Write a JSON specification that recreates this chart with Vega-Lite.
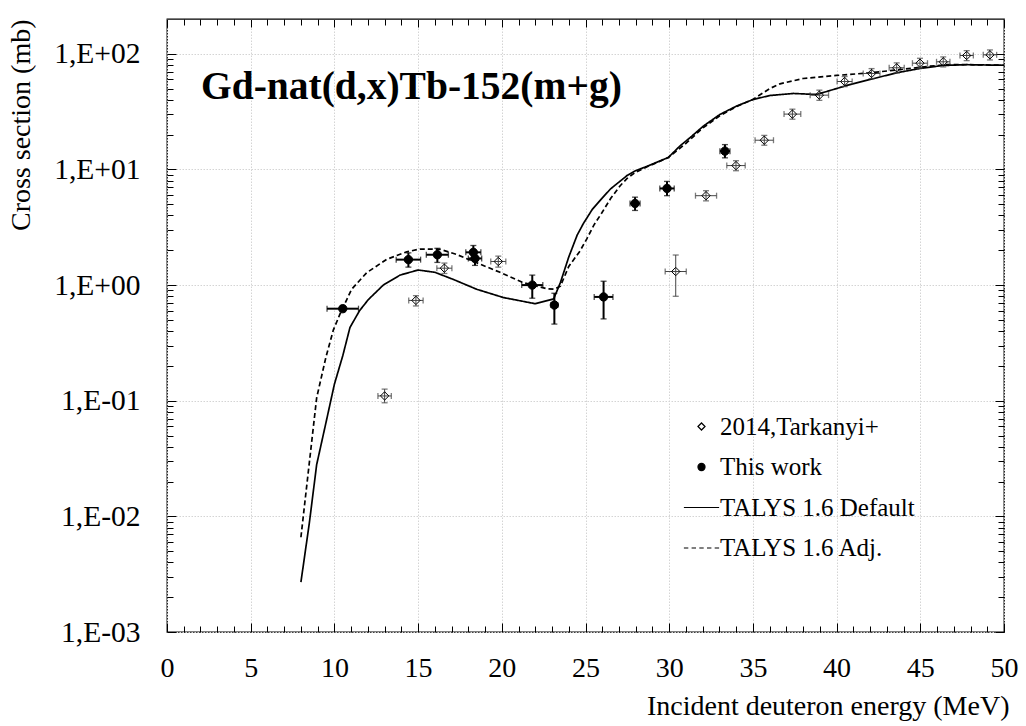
{
  "$schema": "https://vega.github.io/schema/vega-lite/v6.json",
  "width": 837,
  "height": 613,
  "autosize": {"type": "none"},
  "padding": {"left": 167, "top": 19, "right": 22, "bottom": 94},
  "background": "white",
  "title": {
    "text": "Gd-nat(d,x)Tb-152(m+g)",
    "anchor": "start",
    "frame": "group",
    "orient": "top",
    "offset": -120,
    "dx": 34,
    "baseline": "alphabetic",
    "font": "Liberation Serif",
    "fontSize": 39.5,
    "fontWeight": "bold",
    "color": "black"
  },
  "config": {
    "font": "Liberation Serif",
    "view": {"stroke": "black", "strokeWidth": 1.3},
    "axis": {"labelFont": "Liberation Serif", "titleFont": "Liberation Serif", "labelColor": "black", "titleColor": "black", "tickColor": "black", "tickWidth": 1}
  },
  "datasets": {
    "talys": [
      {"model": "TALYS 1.6 Default", "E": 8.0, "xs": 0.0027},
      {"model": "TALYS 1.6 Default", "E": 8.5, "xs": 0.0087},
      {"model": "TALYS 1.6 Default", "E": 8.94, "xs": 0.028},
      {"model": "TALYS 1.6 Default", "E": 9.5, "xs": 0.065},
      {"model": "TALYS 1.6 Default", "E": 10.0, "xs": 0.139},
      {"model": "TALYS 1.6 Default", "E": 10.5, "xs": 0.245},
      {"model": "TALYS 1.6 Default", "E": 10.93, "xs": 0.43},
      {"model": "TALYS 1.6 Default", "E": 11.5, "xs": 0.6},
      {"model": "TALYS 1.6 Default", "E": 12.03, "xs": 0.75},
      {"model": "TALYS 1.6 Default", "E": 12.92, "xs": 1.0},
      {"model": "TALYS 1.6 Default", "E": 13.92, "xs": 1.22},
      {"model": "TALYS 1.6 Default", "E": 15.0, "xs": 1.35},
      {"model": "TALYS 1.6 Default", "E": 16.0, "xs": 1.29},
      {"model": "TALYS 1.6 Default", "E": 17.1, "xs": 1.12},
      {"model": "TALYS 1.6 Default", "E": 18.5, "xs": 0.92},
      {"model": "TALYS 1.6 Default", "E": 20.1, "xs": 0.78},
      {"model": "TALYS 1.6 Default", "E": 22.0, "xs": 0.69},
      {"model": "TALYS 1.6 Default", "E": 23.1, "xs": 0.76},
      {"model": "TALYS 1.6 Default", "E": 23.5, "xs": 1.05},
      {"model": "TALYS 1.6 Default", "E": 24.0, "xs": 1.75},
      {"model": "TALYS 1.6 Default", "E": 24.5, "xs": 2.7},
      {"model": "TALYS 1.6 Default", "E": 24.87, "xs": 3.4},
      {"model": "TALYS 1.6 Default", "E": 25.4, "xs": 4.5},
      {"model": "TALYS 1.6 Default", "E": 25.97, "xs": 5.6},
      {"model": "TALYS 1.6 Default", "E": 26.5, "xs": 6.8},
      {"model": "TALYS 1.6 Default", "E": 27.06, "xs": 7.9},
      {"model": "TALYS 1.6 Default", "E": 27.5, "xs": 8.9},
      {"model": "TALYS 1.6 Default", "E": 27.96, "xs": 9.7},
      {"model": "TALYS 1.6 Default", "E": 28.85, "xs": 10.9},
      {"model": "TALYS 1.6 Default", "E": 29.95, "xs": 12.7},
      {"model": "TALYS 1.6 Default", "E": 30.65, "xs": 16.0},
      {"model": "TALYS 1.6 Default", "E": 31.24, "xs": 18.8},
      {"model": "TALYS 1.6 Default", "E": 32.04, "xs": 23.7},
      {"model": "TALYS 1.6 Default", "E": 33.03, "xs": 29.9},
      {"model": "TALYS 1.6 Default", "E": 34.0, "xs": 35.2},
      {"model": "TALYS 1.6 Default", "E": 35.02, "xs": 40.3},
      {"model": "TALYS 1.6 Default", "E": 36.02, "xs": 43.6},
      {"model": "TALYS 1.6 Default", "E": 37.41, "xs": 45.4},
      {"model": "TALYS 1.6 Default", "E": 38.81, "xs": 44.5},
      {"model": "TALYS 1.6 Default", "E": 39.8, "xs": 49.1},
      {"model": "TALYS 1.6 Default", "E": 40.6, "xs": 53.2},
      {"model": "TALYS 1.6 Default", "E": 42.0, "xs": 60.0},
      {"model": "TALYS 1.6 Default", "E": 43.59, "xs": 68.5},
      {"model": "TALYS 1.6 Default", "E": 44.98, "xs": 74.7},
      {"model": "TALYS 1.6 Default", "E": 46.37, "xs": 79.3},
      {"model": "TALYS 1.6 Default", "E": 47.77, "xs": 80.5},
      {"model": "TALYS 1.6 Default", "E": 50.0, "xs": 79.6},
      {"model": "TALYS 1.6 Adj.", "E": 8.0, "xs": 0.0066},
      {"model": "TALYS 1.6 Adj.", "E": 8.94, "xs": 0.106},
      {"model": "TALYS 1.6 Adj.", "E": 9.5, "xs": 0.24},
      {"model": "TALYS 1.6 Adj.", "E": 9.94, "xs": 0.41},
      {"model": "TALYS 1.6 Adj.", "E": 10.33, "xs": 0.56},
      {"model": "TALYS 1.6 Adj.", "E": 11.03, "xs": 0.92},
      {"model": "TALYS 1.6 Adj.", "E": 11.93, "xs": 1.28},
      {"model": "TALYS 1.6 Adj.", "E": 13.12, "xs": 1.67},
      {"model": "TALYS 1.6 Adj.", "E": 14.32, "xs": 1.94},
      {"model": "TALYS 1.6 Adj.", "E": 15.11, "xs": 2.05},
      {"model": "TALYS 1.6 Adj.", "E": 16.31, "xs": 2.04},
      {"model": "TALYS 1.6 Adj.", "E": 17.3, "xs": 1.84},
      {"model": "TALYS 1.6 Adj.", "E": 18.5, "xs": 1.56},
      {"model": "TALYS 1.6 Adj.", "E": 19.89, "xs": 1.29},
      {"model": "TALYS 1.6 Adj.", "E": 21.28, "xs": 1.05},
      {"model": "TALYS 1.6 Adj.", "E": 22.68, "xs": 0.93},
      {"model": "TALYS 1.6 Adj.", "E": 23.14, "xs": 0.92},
      {"model": "TALYS 1.6 Adj.", "E": 23.5, "xs": 0.98},
      {"model": "TALYS 1.6 Adj.", "E": 24.0, "xs": 1.45},
      {"model": "TALYS 1.6 Adj.", "E": 24.67, "xs": 1.97},
      {"model": "TALYS 1.6 Adj.", "E": 25.07, "xs": 2.5},
      {"model": "TALYS 1.6 Adj.", "E": 25.5, "xs": 3.3},
      {"model": "TALYS 1.6 Adj.", "E": 25.97, "xs": 4.2},
      {"model": "TALYS 1.6 Adj.", "E": 26.5, "xs": 5.6},
      {"model": "TALYS 1.6 Adj.", "E": 27.06, "xs": 7.2},
      {"model": "TALYS 1.6 Adj.", "E": 27.5, "xs": 8.4},
      {"model": "TALYS 1.6 Adj.", "E": 27.96, "xs": 9.4},
      {"model": "TALYS 1.6 Adj.", "E": 28.65, "xs": 10.5},
      {"model": "TALYS 1.6 Adj.", "E": 29.95, "xs": 12.7},
      {"model": "TALYS 1.6 Adj.", "E": 31.0, "xs": 16.8},
      {"model": "TALYS 1.6 Adj.", "E": 32.0, "xs": 22.8},
      {"model": "TALYS 1.6 Adj.", "E": 33.0, "xs": 29.0},
      {"model": "TALYS 1.6 Adj.", "E": 34.0, "xs": 34.8},
      {"model": "TALYS 1.6 Adj.", "E": 35.02, "xs": 40.5},
      {"model": "TALYS 1.6 Adj.", "E": 36.0, "xs": 50.0},
      {"model": "TALYS 1.6 Adj.", "E": 36.62, "xs": 55.0},
      {"model": "TALYS 1.6 Adj.", "E": 38.0, "xs": 61.2},
      {"model": "TALYS 1.6 Adj.", "E": 40.0, "xs": 65.0},
      {"model": "TALYS 1.6 Adj.", "E": 42.0, "xs": 68.5},
      {"model": "TALYS 1.6 Adj.", "E": 43.8, "xs": 73.1},
      {"model": "TALYS 1.6 Adj.", "E": 45.58, "xs": 78.2},
      {"model": "TALYS 1.6 Adj.", "E": 46.57, "xs": 80.5},
      {"model": "TALYS 1.6 Adj.", "E": 48.0, "xs": 80.5},
      {"model": "TALYS 1.6 Adj.", "E": 50.0, "xs": 79.6}
    ],
    "exp": [
      {"src": "2014,Tarkanyi+", "E": 13.0, "xlo": 12.6, "xhi": 13.4, "xs": 0.11, "lo": 0.096, "hi": 0.126},
      {"src": "2014,Tarkanyi+", "E": 14.87, "xlo": 14.44, "xhi": 15.3, "xs": 0.737, "lo": 0.66, "hi": 0.81},
      {"src": "2014,Tarkanyi+", "E": 16.57, "xlo": 16.12, "xhi": 17.02, "xs": 1.4, "lo": 1.26, "hi": 1.55},
      {"src": "2014,Tarkanyi+", "E": 19.79, "xlo": 19.34, "xhi": 20.24, "xs": 1.6, "lo": 1.43, "hi": 1.78},
      {"src": "2014,Tarkanyi+", "E": 30.39, "xlo": 29.76, "xhi": 31.02, "xs": 1.31, "lo": 0.8, "hi": 1.82},
      {"src": "2014,Tarkanyi+", "E": 32.2, "xlo": 31.57, "xhi": 32.83, "xs": 5.93, "lo": 5.35, "hi": 6.55},
      {"src": "2014,Tarkanyi+", "E": 33.99, "xlo": 33.44, "xhi": 34.54, "xs": 10.8, "lo": 9.75, "hi": 11.9},
      {"src": "2014,Tarkanyi+", "E": 35.68, "xlo": 35.13, "xhi": 36.23, "xs": 17.9, "lo": 16.2, "hi": 19.7},
      {"src": "2014,Tarkanyi+", "E": 37.36, "xlo": 36.86, "xhi": 37.86, "xs": 30.1, "lo": 27.2, "hi": 33.2},
      {"src": "2014,Tarkanyi+", "E": 38.97, "xlo": 38.42, "xhi": 39.52, "xs": 43.9, "lo": 39.6, "hi": 48.5},
      {"src": "2014,Tarkanyi+", "E": 40.48, "xlo": 40.03, "xhi": 40.93, "xs": 57.6, "lo": 52.0, "hi": 63.6},
      {"src": "2014,Tarkanyi+", "E": 42.09, "xlo": 41.59, "xhi": 42.59, "xs": 67.6, "lo": 61.0, "hi": 74.5},
      {"src": "2014,Tarkanyi+", "E": 43.59, "xlo": 43.14, "xhi": 44.04, "xs": 75.7, "lo": 68.3, "hi": 83.5},
      {"src": "2014,Tarkanyi+", "E": 44.98, "xlo": 44.53, "xhi": 45.43, "xs": 83.0, "lo": 75.0, "hi": 91.5},
      {"src": "2014,Tarkanyi+", "E": 46.37, "xlo": 45.97, "xhi": 46.77, "xs": 85.3, "lo": 77.0, "hi": 94.0},
      {"src": "2014,Tarkanyi+", "E": 47.77, "xlo": 47.37, "xhi": 48.17, "xs": 96.7, "lo": 87.3, "hi": 106.5},
      {"src": "2014,Tarkanyi+", "E": 49.16, "xlo": 48.76, "xhi": 49.56, "xs": 98.0, "lo": 88.5, "hi": 108.0},
      {"src": "This work", "E": 10.5, "xlo": 9.56, "xhi": 11.44, "xs": 0.625, "lo": 0.59, "hi": 0.665},
      {"src": "This work", "E": 14.42, "xlo": 13.69, "xhi": 15.15, "xs": 1.66, "lo": 1.43, "hi": 1.9},
      {"src": "This work", "E": 16.15, "xlo": 15.49, "xhi": 16.81, "xs": 1.83, "lo": 1.57, "hi": 2.08},
      {"src": "This work", "E": 18.3, "xlo": 17.85, "xhi": 18.75, "xs": 1.92, "lo": 1.65, "hi": 2.2},
      {"src": "This work", "E": 18.4, "xlo": 18.0, "xhi": 18.8, "xs": 1.7, "lo": 1.48, "hi": 1.92},
      {"src": "This work", "E": 21.82, "xlo": 21.19, "xhi": 22.45, "xs": 1.0, "lo": 0.77, "hi": 1.22},
      {"src": "This work", "E": 23.14, "xlo": 22.94, "xhi": 23.34, "xs": 0.672, "lo": 0.46, "hi": 0.85},
      {"src": "This work", "E": 26.08, "xlo": 25.52, "xhi": 26.64, "xs": 0.79, "lo": 0.51, "hi": 1.08},
      {"src": "This work", "E": 27.96, "xlo": 27.66, "xhi": 28.26, "xs": 5.08, "lo": 4.42, "hi": 5.76},
      {"src": "This work", "E": 29.87, "xlo": 29.44, "xhi": 30.3, "xs": 6.85, "lo": 5.93, "hi": 7.88},
      {"src": "This work", "E": 33.33, "xlo": 33.03, "xhi": 33.63, "xs": 14.4, "lo": 12.6, "hi": 16.4}
    ]
  },
  "resolve": {"axis": {"x": "independent", "y": "independent"}},
  "layer": [
    {
      "data": {"name": "talys"},
      "mark": {"type": "line", "color": "black", "strokeWidth": 1.7},
      "encoding": {
        "x": {
          "field": "E", "type": "quantitative",
          "scale": {"domain": [0, 50], "nice": false, "zero": false},
          "axis": {
            "orient": "bottom", "values": [0, 5, 10, 15, 20, 25, 30, 35, 40, 45, 50],
            "ticks": false, "domain": false, "grid": true, "gridColor": "#d4d4d4", "gridDash": [1.5, 1.5], "gridWidth": 1,
            "labelFontSize": 28, "labelPadding": 22, "labelFlush": false,
            "title": "Incident deuteron energy (MeV)", "titleFontSize": 28, "titleFontWeight": "normal",
            "titleX": 842, "titleAlign": "right", "titlePadding": 10
          }
        },
        "y": {
          "field": "xs", "type": "quantitative",
          "scale": {"type": "log", "domain": [0.001, 200], "nice": false},
          "axis": {
            "orient": "left", "values": [0.001, 0.01, 0.1, 1, 10, 100],
            "labelExpr": "'1,E' + (datum.value >= 1 ? '+' : '-') + '0' + abs(round(log(datum.value) / LN10))",
            "ticks": false, "domain": false, "grid": true, "gridColor": "#d4d4d4", "gridDash": [1.5, 1.5], "gridWidth": 1,
            "labelFontSize": 29.5, "labelPadding": 27, "labelFlush": false,
            "title": "Cross section (mb)", "titleFontSize": 28, "titleFontWeight": "normal",
            "titleAnchor": "end", "titlePadding": 18
          }
        },
        "strokeDash": {
          "field": "model", "type": "nominal",
          "scale": {"domain": ["TALYS 1.6 Default", "TALYS 1.6 Adj."], "range": [[1, 0], [5, 3]]},
          "legend": null
        }
      }
    },
    {
      "data": {"name": "exp"},
      "mark": {"type": "rule"},
      "encoding": {
        "x": {
          "field": "xlo", "type": "quantitative",
          "scale": {"domain": [0, 50], "nice": false, "zero": false},
          "axis": {"orient": "bottom", "values": [0, 5, 10, 15, 20, 25, 30, 35, 40, 45, 50], "labels": false, "domain": false, "grid": false, "tickSize": -9, "title": null}
        },
        "x2": {"field": "xhi"},
        "y": {
          "field": "xs", "type": "quantitative",
          "scale": {"type": "log", "domain": [0.001, 200], "nice": false},
          "axis": {"orient": "left", "values": [0.001, 0.01, 0.1, 1, 10, 100], "labels": false, "domain": false, "grid": false, "tickSize": -9, "title": null}
        },
        "stroke": {"condition": {"test": "datum.src === 'This work'", "value": "black"}, "value": "#444444"},
        "strokeWidth": {"condition": {"test": "datum.src === 'This work'", "value": 2}, "value": 1}
      }
    },
    {
      "data": {"name": "exp"},
      "mark": {"type": "rule"},
      "encoding": {
        "x": {
          "field": "E", "type": "quantitative",
          "scale": {"domain": [0, 50], "nice": false, "zero": false},
          "axis": {"orient": "bottom", "values": [1, 2, 3, 4, 6, 7, 8, 9, 11, 12, 13, 14, 16, 17, 18, 19, 21, 22, 23, 24, 26, 27, 28, 29, 31, 32, 33, 34, 36, 37, 38, 39, 41, 42, 43, 44, 46, 47, 48, 49], "labels": false, "domain": false, "grid": false, "tickSize": -6, "title": null}
        },
        "y": {
          "field": "lo", "type": "quantitative",
          "scale": {"type": "log", "domain": [0.001, 200], "nice": false},
          "axis": {"orient": "left", "values": [0.002, 0.003, 0.004, 0.005, 0.006, 0.007, 0.008, 0.009, 0.02, 0.03, 0.04, 0.05, 0.06, 0.07, 0.08, 0.09, 0.2, 0.3, 0.4, 0.5, 0.6, 0.7, 0.8, 0.9, 2, 3, 4, 5, 6, 7, 8, 9, 20, 30, 40, 50, 60, 70, 80, 90], "labels": false, "domain": false, "grid": false, "tickSize": -6, "title": null}
        },
        "y2": {"field": "hi"},
        "stroke": {"condition": {"test": "datum.src === 'This work'", "value": "black"}, "value": "#444444"},
        "strokeWidth": {"condition": {"test": "datum.src === 'This work'", "value": 2}, "value": 1}
      }
    },
    {
      "data": {"name": "exp"},
      "mark": {"type": "tick", "orient": "vertical", "size": 6, "thickness": 1.3},
      "encoding": {
        "x": {
          "field": "xlo", "type": "quantitative",
          "scale": {"domain": [0, 50], "nice": false, "zero": false},
          "axis": {"orient": "top", "values": [0, 5, 10, 15, 20, 25, 30, 35, 40, 45, 50], "labels": false, "domain": false, "grid": false, "tickSize": -8, "title": null}
        },
        "y": {
          "field": "xs", "type": "quantitative",
          "scale": {"type": "log", "domain": [0.001, 200], "nice": false},
          "axis": {"orient": "right", "values": [0.001, 0.01, 0.1, 1, 10, 100], "labels": false, "domain": false, "grid": false, "tickSize": -9, "title": null}
        },
        "color": {"condition": {"test": "datum.src === 'This work'", "value": "black"}, "value": "#444444"}
      }
    },
    {
      "data": {"name": "exp"},
      "mark": {"type": "tick", "orient": "vertical", "size": 6, "thickness": 1.3},
      "encoding": {
        "x": {
          "field": "xhi", "type": "quantitative",
          "scale": {"domain": [0, 50], "nice": false, "zero": false},
          "axis": {"orient": "top", "values": [1, 2, 3, 4, 6, 7, 8, 9, 11, 12, 13, 14, 16, 17, 18, 19, 21, 22, 23, 24, 26, 27, 28, 29, 31, 32, 33, 34, 36, 37, 38, 39, 41, 42, 43, 44, 46, 47, 48, 49], "labels": false, "domain": false, "grid": false, "tickSize": -6, "title": null}
        },
        "y": {
          "field": "xs", "type": "quantitative",
          "scale": {"type": "log", "domain": [0.001, 200], "nice": false},
          "axis": {"orient": "right", "values": [0.002, 0.003, 0.004, 0.005, 0.006, 0.007, 0.008, 0.009, 0.02, 0.03, 0.04, 0.05, 0.06, 0.07, 0.08, 0.09, 0.2, 0.3, 0.4, 0.5, 0.6, 0.7, 0.8, 0.9, 2, 3, 4, 5, 6, 7, 8, 9, 20, 30, 40, 50, 60, 70, 80, 90], "labels": false, "domain": false, "grid": false, "tickSize": -6, "title": null}
        },
        "color": {"condition": {"test": "datum.src === 'This work'", "value": "black"}, "value": "#444444"}
      }
    },
    {
      "data": {"name": "exp"},
      "mark": {"type": "tick", "orient": "horizontal", "size": 6, "thickness": 1.3},
      "encoding": {
        "x": {"field": "E", "type": "quantitative", "scale": {"domain": [0, 50], "nice": false, "zero": false}, "axis": null},
        "y": {"field": "lo", "type": "quantitative", "scale": {"type": "log", "domain": [0.001, 200], "nice": false}, "axis": null},
        "color": {"condition": {"test": "datum.src === 'This work'", "value": "black"}, "value": "#444444"}
      }
    },
    {
      "data": {"name": "exp"},
      "mark": {"type": "tick", "orient": "horizontal", "size": 6, "thickness": 1.3},
      "encoding": {
        "x": {"field": "E", "type": "quantitative", "scale": {"domain": [0, 50], "nice": false, "zero": false}, "axis": null},
        "y": {"field": "hi", "type": "quantitative", "scale": {"type": "log", "domain": [0.001, 200], "nice": false}, "axis": null},
        "color": {"condition": {"test": "datum.src === 'This work'", "value": "black"}, "value": "#444444"}
      }
    },
    {
      "data": {"name": "exp"},
      "mark": {"type": "point", "strokeWidth": 1, "size": 70, "opacity": 1},
      "encoding": {
        "x": {"field": "E", "type": "quantitative", "scale": {"domain": [0, 50], "nice": false, "zero": false}, "axis": null},
        "y": {"field": "xs", "type": "quantitative", "scale": {"type": "log", "domain": [0.001, 200], "nice": false}, "axis": null},
        "shape": {
          "field": "src", "type": "nominal",
          "scale": {
            "domain": ["2014,Tarkanyi+", "This work", "TALYS 1.6 Default", "TALYS 1.6 Adj."],
            "range": ["diamond", "circle", "M-4.98,0H4.98", "M-4.98,0H-3.73M-2.8,0H-1.55M-0.62,0H0.62M1.55,0H2.8M3.73,0H4.98"]
          },
          "legend": {
            "title": null, "orient": "none", "legendX": 522, "legendY": 395, "padding": 0,
            "labelFontSize": 25, "labelFont": "Liberation Serif", "labelColor": "black", "labelOffset": 6, "labelLimit": 400,
            "symbolSize": 50, "symbolStrokeWidth": 1.2, "rowPadding": 14.5
          }
        },
        "fill": {
          "field": "src", "type": "nominal",
          "scale": {
            "domain": ["2014,Tarkanyi+", "This work", "TALYS 1.6 Default", "TALYS 1.6 Adj."],
            "range": ["transparent", "black", "transparent", "transparent"]
          },
          "legend": {
            "title": null, "orient": "none", "legendX": 522, "legendY": 395, "padding": 0,
            "labelFontSize": 25, "labelFont": "Liberation Serif", "labelColor": "black", "labelOffset": 6, "labelLimit": 400,
            "symbolSize": 50, "symbolStrokeWidth": 1.2, "rowPadding": 14.5
          }
        },
        "stroke": {
          "field": "src", "type": "nominal",
          "scale": {
            "domain": ["2014,Tarkanyi+", "This work", "TALYS 1.6 Default", "TALYS 1.6 Adj."],
            "range": ["black", "black", "black", "black"]
          },
          "legend": {
            "title": null, "orient": "none", "legendX": 522, "legendY": 395, "padding": 0,
            "labelFontSize": 25, "labelFont": "Liberation Serif", "labelColor": "black", "labelOffset": 6, "labelLimit": 400,
            "symbolSize": 50, "symbolStrokeWidth": 1.2, "rowPadding": 14.5
          }
        }
      }
    }
  ]
}
